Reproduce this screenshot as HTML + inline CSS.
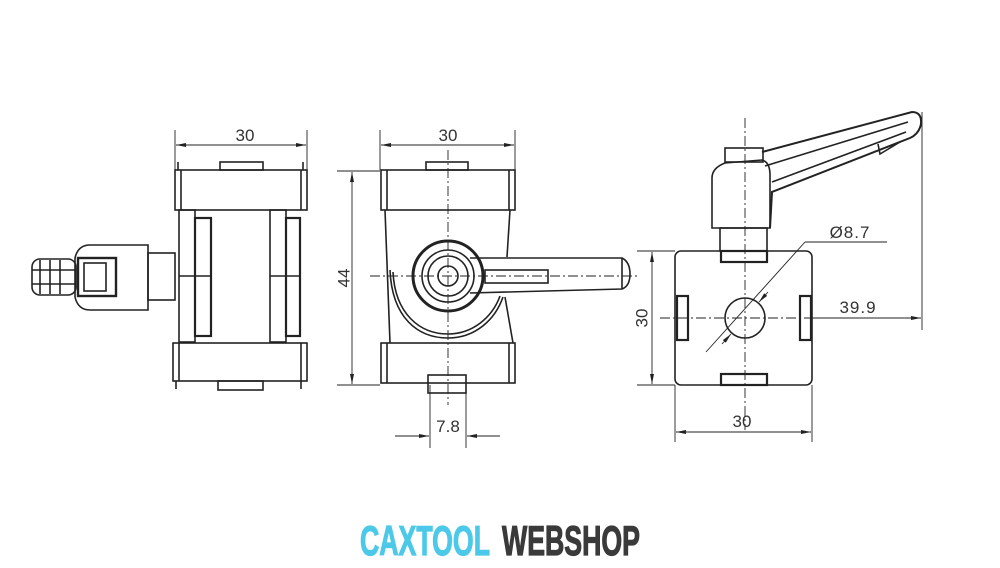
<!DOCTYPE html>
<html><head><meta charset="utf-8"><style>
html,body{margin:0;padding:0;background:#fff;}
svg{display:block}
text{font-family:"Liberation Sans",sans-serif;fill:#333}
</style></head><body>
<svg width="1000" height="568" viewBox="0 0 1000 568" xmlns="http://www.w3.org/2000/svg">
<defs>
<marker id="a" markerWidth="10" markerHeight="6" refX="10" refY="3" orient="auto-start-reverse" markerUnits="userSpaceOnUse">
<path d="M0,1 L10,3 L0,5 Z" fill="#222"/></marker>
</defs>
<g fill="none" stroke="#222" stroke-width="1.6">
<!-- LEFT VIEW -->
<line x1="175" y1="130" x2="175" y2="170" stroke-width="0.9"/>
<line x1="307" y1="130" x2="307" y2="170" stroke-width="0.9"/>
<line x1="176" y1="145" x2="306" y2="145" stroke-width="0.9" marker-start="url(#a)" marker-end="url(#a)"/>
<rect x="175" y="170" width="132" height="40"/>
<line x1="181" y1="170" x2="181" y2="210"/><line x1="301" y1="170" x2="301" y2="210"/>
<rect x="220" y="162" width="43" height="8"/>
<line x1="178" y1="162" x2="178" y2="170"/><line x1="303" y1="162" x2="303" y2="170"/>
<rect x="179" y="210" width="16" height="132"/>
<rect x="195" y="218" width="16" height="118" stroke-width="2.2"/>
<rect x="270" y="210" width="16" height="132"/>
<rect x="286" y="218" width="14" height="118" stroke-width="2.2"/>
<line x1="179" y1="276" x2="211" y2="276"/><line x1="270" y1="276" x2="300" y2="276"/>
<rect x="173" y="343" width="134" height="38"/>
<line x1="179" y1="343" x2="179" y2="381"/><line x1="301" y1="343" x2="301" y2="381"/>
<rect x="218" y="381" width="45" height="9"/>
<line x1="176" y1="381" x2="176" y2="389"/><line x1="301" y1="381" x2="301" y2="389"/>
<rect x="148" y="253" width="27" height="47"/>
<path d="M75,258 Q78,245 90,245 L148,245 L148,310 L90,310 Q78,310 75,297 Z"/>
<rect x="78" y="258" width="38" height="38" stroke-width="2.4"/>
<rect x="84" y="263" width="22" height="28"/>
<rect x="32" y="259" width="44" height="36" rx="8"/>
<line x1="40" y1="260" x2="40" y2="294"/><line x1="50" y1="260" x2="50" y2="294"/><line x1="60" y1="260" x2="60" y2="294"/>
<line x1="32" y1="270" x2="76" y2="270"/><line x1="32" y1="284" x2="76" y2="284"/>

<!-- MIDDLE VIEW -->
<line x1="380" y1="130" x2="380" y2="170" stroke-width="0.9"/>
<line x1="515" y1="130" x2="515" y2="170" stroke-width="0.9"/>
<line x1="381" y1="145" x2="514" y2="145" stroke-width="0.9" marker-start="url(#a)" marker-end="url(#a)"/>
<rect x="381" y="170" width="134" height="40"/>
<line x1="387" y1="170" x2="387" y2="210"/><line x1="509" y1="170" x2="509" y2="210"/>
<rect x="426" y="162" width="42" height="8"/>
<rect x="381" y="343" width="134" height="40"/>
<line x1="387" y1="343" x2="387" y2="383"/><line x1="509" y1="343" x2="509" y2="383"/>
<rect x="428" y="375" width="38" height="18"/>
<path d="M385,210 L390,343"/>
<path d="M390,270 C392,318 418,338 448,338 C475,338 495,320 503,297"/>
<path d="M393,272 C395,314 420,334 448,334 C472,334 492,318 500,296"/>
<path d="M510,210 L507,257"/>
<path d="M505,297 L513,343"/>
<circle cx="448" cy="276" r="35" stroke-width="3"/>
<circle cx="448" cy="276" r="26"/>
<circle cx="448" cy="276" r="20"/>
<circle cx="448" cy="276" r="10"/>
<path d="M470,258 L622,258 Q630,262 630,274 Q630,286 622,289 L470,293"/>
<rect x="485" y="270" width="63" height="13"/>
<line x1="622" y1="258" x2="622" y2="289"/>
<!-- 44 dim -->
<line x1="337" y1="171" x2="380" y2="171" stroke-width="0.9"/>
<line x1="337" y1="385" x2="380" y2="385" stroke-width="0.9"/>
<line x1="352" y1="172" x2="352" y2="384" stroke-width="0.9" marker-start="url(#a)" marker-end="url(#a)"/>
<!-- 7.8 dim -->
<line x1="430" y1="385" x2="430" y2="448" stroke-width="0.9"/>
<line x1="466" y1="385" x2="466" y2="448" stroke-width="0.9"/>
<line x1="395" y1="436" x2="429" y2="436" stroke-width="0.9" marker-end="url(#a)"/>
<line x1="500" y1="436" x2="467" y2="436" stroke-width="0.9" marker-end="url(#a)"/>

<!-- RIGHT VIEW -->
<rect x="675" y="251" width="137" height="134" rx="6"/>
<rect x="721" y="251" width="46" height="11" stroke-width="2.2"/>
<rect x="721" y="374" width="46" height="11" stroke-width="2.2"/>
<rect x="677" y="296" width="11" height="44" stroke-width="2.2"/>
<rect x="800" y="296" width="11" height="44" stroke-width="2.2"/>
<circle cx="745" cy="318" r="20"/>
<rect x="720" y="228" width="47" height="23"/>
<path d="M712,228 L712,178 Q712,168 725,163 L762,160 Q770,162 770,175 L770,228 Z"/>
<rect x="725" y="148" width="38" height="14"/>
<path d="M762,152 L912,112 Q922,112 921,124 Q919,134 910,138 L772,192 L770,228" stroke-width="2"/>
<path d="M765,166 L908,122"/>
<path d="M772,182 L906,132"/>
<path d="M878,144 L880,154 L900,142"/>
<!-- dims right -->
<line x1="637" y1="251" x2="675" y2="251" stroke-width="0.9"/>
<line x1="637" y1="385" x2="675" y2="385" stroke-width="0.9"/>
<line x1="652" y1="252" x2="652" y2="384" stroke-width="0.9" marker-start="url(#a)" marker-end="url(#a)"/>
<line x1="675" y1="385" x2="675" y2="442" stroke-width="0.9"/>
<line x1="812" y1="385" x2="812" y2="442" stroke-width="0.9"/>
<line x1="676" y1="432" x2="811" y2="432" stroke-width="0.9" marker-start="url(#a)" marker-end="url(#a)"/>
<line x1="922" y1="112" x2="922" y2="330" stroke-width="0.9"/>
<line x1="812" y1="318" x2="921" y2="318" stroke-width="0.9" marker-end="url(#a)"/>
<line x1="706" y1="352" x2="805" y2="242" stroke-width="0.9"/>
<line x1="805" y1="242" x2="887" y2="242" stroke-width="0.9"/>
<line x1="768" y1="292" x2="759" y2="302" stroke-width="0.9" marker-end="url(#a)"/>
<line x1="722" y1="344" x2="731" y2="334" stroke-width="0.9" marker-end="url(#a)"/>
</g>
<!-- centerlines -->
<g stroke="#222" stroke-width="0.9" stroke-dasharray="10,3,2,3" fill="none">
<line x1="448" y1="150" x2="448" y2="405"/>
<line x1="370" y1="276" x2="640" y2="276"/>
<line x1="745" y1="118" x2="745" y2="430"/>
<line x1="660" y1="318" x2="812" y2="318"/>
</g>
<g font-size="17">
<text x="245" y="141" text-anchor="middle">30</text>
<text x="448" y="141" text-anchor="middle">30</text>
<text x="345" y="278" text-anchor="middle" transform="rotate(-90 345 278)" dominant-baseline="middle">44</text>
<text x="448" y="432" text-anchor="middle">7.8</text>
<text x="742" y="427" text-anchor="middle">30</text>
<text x="643" y="318" text-anchor="middle" transform="rotate(-90 643 318)" dominant-baseline="middle">30</text>
<text x="858" y="313" text-anchor="middle" letter-spacing="1">39.9</text>
<text x="850" y="238" text-anchor="middle" letter-spacing="1">Ø8.7</text>
</g>
<g font-family="'Liberation Sans Narrow','Liberation Sans',sans-serif" font-weight="bold" font-size="42" stroke-width="1.2">
<text x="360" y="555" textLength="130" lengthAdjust="spacingAndGlyphs" style="fill:#4cc9e8;stroke:#4cc9e8">CAXTOOL</text>
<text x="502" y="555" textLength="138" lengthAdjust="spacingAndGlyphs" style="fill:#3a3a3a;stroke:#3a3a3a">WEBSHOP</text>
</g>
</svg>
</body></html>
